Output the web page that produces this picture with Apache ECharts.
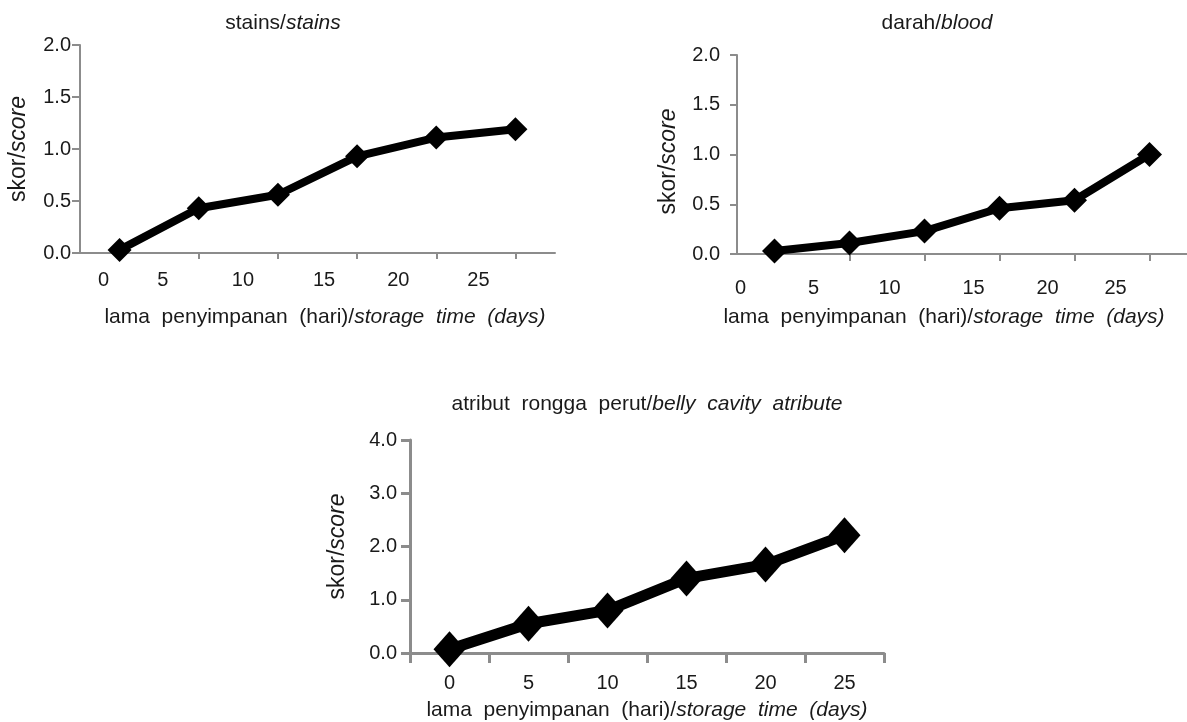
<!DOCTYPE html>
<html>
<head>
<meta charset="utf-8">
<script src="https://cdn.jsdelivr.net/npm/echarts@6/dist/echarts.min.js"></script>
<style>
  html, body { margin: 0; padding: 0; background: #fff; }
  #chart { width: 1187px; height: 722px; }
</style>
</head>
<body>
<div id="chart"></div>
<script>
// storage time categories (days)
const days = ['0', '5', '10', '15', '20', '25']
// scores
const stainsScore = [0.03, 0.43, 0.56, 0.93, 1.11, 1.19]
const bloodScore = [0.03, 0.11, 0.23, 0.46, 0.54, 1.0]
const bellyScore = [0.07, 0.55, 0.80, 1.40, 1.66, 2.21]

const FONT = '"Liberation Sans", Arial, sans-serif'
const TEXT = '#1a1a1a'
const AXIS = '#8c8c8c'

// the original figure's day labels sit a bit left of the points
const stainsLabelShift = [16, 36, 35, 33, 38, 37]
const bloodLabelShift = [34, 36, 35, 26, 27, 34]

function richName(plain, italic) {
  return `{n|${plain}}{i|${italic}}`
}
function richStyle(size) {
  return {
    n: { fontFamily: FONT, fontSize: size, color: TEXT, fontWeight: 'normal' },
    i: { fontFamily: FONT, fontSize: size, color: TEXT, fontWeight: 'normal', fontStyle: 'italic' }
  }
}

function shiftedLabel(shifts, margin) {
  const rich = {}
  shifts.forEach((s, i) => {
    rich['s' + i] = { fontFamily: FONT, fontSize: 20, color: TEXT, padding: [0, s * 2, 0, 0] }
  })
  return {
    margin,
    formatter: (v, i) => `{s${i}|${v}}`,
    rich
  }
}

function yAxisOf(grid, max, interval, opt) {
  return {
    gridIndex: grid,
    type: 'value',
    min: 0,
    max,
    interval,
    name: richName('skor/', 'score'),
    nameLocation: 'middle',
    nameGap: opt.nameGap,
    nameTextStyle: { rich: richStyle(23), padding: opt.namePad || 0 },
    axisLine: { show: true, lineStyle: { color: AXIS, width: opt.lw } },
    axisTick: { show: true, length: opt.tick, lineStyle: { color: AXIS, width: opt.lw } },
    splitLine: { show: false },
    axisLabel: {
      margin: opt.margin,
      fontFamily: FONT,
      fontSize: 20,
      color: TEXT,
      formatter: (v) => v.toFixed(1)
    }
  }
}

function xAxisOf(grid, opt) {
  return {
    gridIndex: grid,
    type: 'category',
    data: days,
    boundaryGap: true,
    name: richName('lama  penyimpanan  (hari)/', 'storage  time  (days)'),
    nameLocation: 'middle',
    nameGap: opt.nameGap,
    nameTextStyle: { rich: richStyle(21), padding: opt.namePad || 0 },
    axisLine: { show: true, onZero: false, lineStyle: { color: AXIS, width: opt.lw } },
    axisTick: { show: true, alignWithLabel: opt.align, length: opt.tick, lineStyle: { color: AXIS, width: opt.lw } },
    axisLabel: opt.label
  }
}

function seriesOf(i, data, size, width) {
  return {
    type: 'line',
    xAxisIndex: i,
    yAxisIndex: i,
    data,
    symbol: 'diamond',
    symbolSize: size,
    lineStyle: { color: '#000', width },
    itemStyle: { color: '#000' },
    emphasis: { disabled: true },
    silent: true,
    animation: false
  }
}

const myChart = echarts.init(document.getElementById('chart'))
const options = {
  backgroundColor: '#fff',
  animation: false,
  title: [
    { text: richName('stains/', 'stains'), left: 278, top: 8, textAlign: 'center', textStyle: { rich: richStyle(21) } },
    { text: richName('darah/', 'blood'), left: 932, top: 8, textAlign: 'center', textStyle: { rich: richStyle(21) } },
    { text: richName('atribut  rongga  perut/', 'belly  cavity  atribute'), left: 642, top: 389, textAlign: 'center', textStyle: { rich: richStyle(21) } }
  ],
  grid: [
    { left: 80, top: 45, width: 475, height: 208 },
    { left: 737, top: 55, width: 452, height: 199 },
    { left: 410, top: 440, width: 474, height: 213 }
  ],
  xAxis: [
    xAxisOf(0, { nameGap: 54, namePad: [0, 0, 0, 15], lw: 2, tick: 6, align: true, label: shiftedLabel(stainsLabelShift, 17) }),
    xAxisOf(1, { nameGap: 53, namePad: [0, 36, 0, 0], lw: 2, tick: 7, align: true, label: shiftedLabel(bloodLabelShift, 24) }),
    xAxisOf(2, {
      nameGap: 47, lw: 3, tick: 10, align: false,
      label: { margin: 20, fontFamily: FONT, fontSize: 20, color: TEXT }
    })
  ],
  yAxis: [
    yAxisOf(0, 2, 0.5, { nameGap: 50, lw: 2, tick: 8, margin: 9 }),
    yAxisOf(1, 2, 0.5, { nameGap: 57, lw: 2, tick: 7, margin: 17, namePad: [0, 14, 0, 0] }),
    yAxisOf(2, 4, 1, { nameGap: 61, lw: 3, tick: 9, margin: 13 })
  ],
  series: [
    seriesOf(0, stainsScore, 24, 8),
    seriesOf(1, bloodScore, 25, 8),
    seriesOf(2, bellyScore, [32, 36], 11)
  ]
}
myChart.setOption(options)
</script>
</body>
</html>
